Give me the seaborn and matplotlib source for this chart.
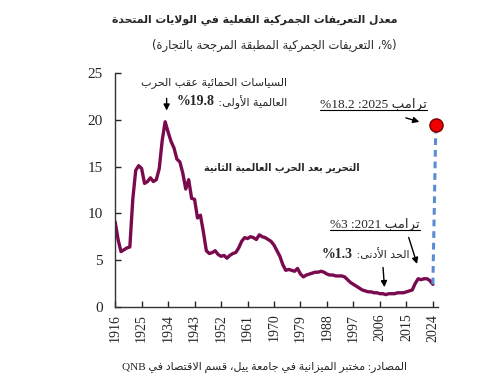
import re
import matplotlib
matplotlib.use("Agg")
import matplotlib.pyplot as plt
from matplotlib.lines import Line2D
import seaborn as sns

# US effective tariff rate, trade weighted (%)
years = list(range(1916, 2025))
tariff_rate = [
    9.1, 7.2, 5.9, 6.1, 6.3, 6.4, 11.5, 14.6, 15.1, 14.8,   # 1916-1925
    13.2, 13.4, 13.8, 13.4, 13.6, 14.8, 17.8, 19.8, 18.7, 17.7,  # 1926-1935
    17.0, 15.8, 15.5, 14.3, 12.6, 13.6, 11.6, 11.5, 9.5, 9.8,  # 1936-1945
    8.0, 6.0, 5.7, 5.8, 6.0, 5.6, 5.4, 5.5, 5.2, 5.5,  # 1946-1955
    5.7, 5.8, 6.3, 7.0, 7.4, 7.3, 7.5, 7.4, 7.2, 7.7,  # 1956-1965
    7.5, 7.4, 7.2, 7.0, 6.6, 6.0, 5.4, 4.5, 3.9, 4.0,  # 1966-1975
    3.9, 3.8, 4.1, 3.5, 3.2, 3.4, 3.5, 3.6, 3.7, 3.7,  # 1976-1985
    3.8, 3.7, 3.5, 3.4, 3.4, 3.3, 3.3, 3.3, 3.2, 2.9,  # 1986-1995
    2.6, 2.4, 2.2, 2.0, 1.8, 1.7, 1.6, 1.6, 1.5, 1.5,  # 1996-2005
    1.4, 1.4, 1.3, 1.4, 1.4, 1.4, 1.5, 1.5, 1.5, 1.6,  # 2006-2015
    1.7, 1.8, 2.5, 3.0, 2.9, 3.0, 3.0, 2.8, 2.4,  # 2016-2024
]
trump_years = [2024, 2025]
trump_rate = [2.4, 19.4]
tick_years = list(range(1916, 2025, 9))

title = "معدل التعريفات الجمركية الفعلية في الولايات المتحدة"
subtitle = "(%، التعريفات الجمركية المطبقة المرجحة بالتجارة)"
source = "المصادر: مختبر الميزانية في جامعة ييل، قسم الاقتصاد في QNB"
wwi_line1 = "السياسات الحمائية عقب الحرب"
wwi_line2 = "العالمية الأولى: "
wwi_value = "19.8%"
wwii_text = "التحرير بعد الحرب العالمية الثانية"
trump25_text = "ترامب 2025: 18.2%"
trump21_text = "ترامب 2021: 3%"
low_text = "الحد الأدنى: "
low_value = "1.3%"

# --- small arabic shaper (matplotlib does no shaping / bidi) ---
FORMS = {}
_start = 0xFE81
for ch in "آأؤإئابةتثجحخدذرزسشصضطظعغفقكلمنهوىي":
    n = 4 if ch in "ئبتثجحخسشصضطظعغفقكلمنهي" else 2
    FORMS[ch] = (_start, n)
    _start += n
FORMS["ء"] = (0xFE80, 1)
LAM_ALEF = {"آ": 0xFEF5, "أ": 0xFEF7, "إ": 0xFEF9, "ا": 0xFEFB}
MIRROR = {"(": ")", ")": "("}


def shape(text):
    chars = []
    i = 0
    while i < len(text):
        if text[i] == "ل" and i + 1 < len(text) and text[i + 1] in LAM_ALEF:
            chars.append(text[i:i + 2])
            i += 2
        else:
            chars.append(text[i])
            i += 1
    out = []
    for k, c in enumerate(chars):
        prev = chars[k - 1] if k > 0 else ""
        nxt = chars[k + 1] if k + 1 < len(chars) else ""
        joins_prev = prev in FORMS and FORMS[prev][1] == 4
        if len(c) == 2:
            out.append(chr(LAM_ALEF[c[1]] + (1 if joins_prev else 0)))
        elif c in FORMS:
            start, n = FORMS[c]
            joins_next = n == 4 and (len(nxt) == 2 or (nxt in FORMS and nxt != "ء"))
            if n == 1:
                idx = 0
            elif joins_prev and joins_next:
                idx = 3
            elif joins_prev:
                idx = 1
            elif joins_next:
                idx = 2
            else:
                idx = 0
            out.append(chr(start + idx))
        else:
            out.append(c)
    return "".join(out)


def rtl(text):
    s = shape(text)
    parts = re.findall(r"[A-Za-z0-9.]+|[^A-Za-z0-9.]+", s)
    vis = []
    for p in reversed(parts):
        if re.match(r"[A-Za-z0-9.]", p):
            vis.append(p)
        else:
            vis.append("".join(MIRROR.get(ch, ch) for ch in reversed(p)))
    return "".join(vis)


sns.set_style("ticks")
plt.rcParams["font.family"] = ["Liberation Serif", "DejaVu Sans"]

fig, ax = plt.subplots(figsize=(4.92, 3.83), dpi=100)
fig.subplots_adjust(left=0.234, right=0.890, bottom=0.199, top=0.809)

sns.lineplot(x=years, y=tariff_rate, ax=ax, color="#7a0a4e", lw=2.4)
sns.lineplot(x=trump_years, y=trump_rate, ax=ax, color="#5b8bd2", lw=2.2,
             linestyle=(0, (2.2, 1.6)))
sns.scatterplot(x=trump_years[-1:], y=trump_rate[-1:], ax=ax, s=90,
                color="#ee0000", edgecolor="#7a0000", linewidth=1, zorder=5,
                clip_on=False)

ax.set_xlim(1916, 2025.7)
ax.set_ylim(0, 25)
ax.set_xticks(tick_years)
ax.set_xticklabels([str(y) for y in tick_years], rotation=90, fontsize=10)
ax.set_yticks([0, 5, 10, 15, 20, 25])
ax.tick_params(axis="y", direction="in", length=4, width=1, labelsize=11, pad=9)
ax.tick_params(axis="x", direction="in", length=4, width=1, pad=5)
sns.despine(ax=ax)
for sp in ["left", "bottom"]:
    ax.spines[sp].set_color("#333333")
    ax.spines[sp].set_linewidth(1)

ar = ["DejaVu Sans"]
arrow = dict(arrowstyle="-|>", color="black", lw=1, mutation_scale=9)

# titles
fig.text(0.807, 0.948, rtl(title), ha="right", va="center", fontsize=7.8,
         fontweight="bold", family=ar)
fig.text(0.807, 0.882, rtl(subtitle), ha="right", va="center", fontsize=8.3,
         family=ar)
fig.text(0.827, 0.040, rtl(source), ha="right", va="center", fontsize=8,
         family=["Liberation Serif", "DejaVu Sans"])

# ww1 protectionism
ax.text(1974.4, 23.95, rtl(wwi_line1), ha="right", va="center", fontsize=8, family=ar)
t = ax.text(1974.4, 21.95, rtl(wwi_line2), ha="right", va="center", fontsize=8, family=ar)
ax.annotate(rtl(wwi_value), xy=(0, 0.5), xycoords=t, ha="right", va="center",
            fontsize=10, fontweight="bold")
ax.annotate("", xy=(1933.5, 20.7), xytext=(1933.5, 22.6), arrowprops=arrow)

# ww2 liberalisation
ax.text(1999.0, 14.85, rtl(wwii_text), ha="right", va="center", fontsize=7,
        fontweight="bold", family=ar)

# trump 2025
t25 = ax.text(2021.9, 21.7, rtl(trump25_text), ha="right", va="center", fontsize=9.6)
ax.annotate("", xy=(2020.3, 19.7), xytext=(2013.9, 20.3), arrowprops=arrow)

# trump 2021
t21 = ax.text(2019.5, 8.85, rtl(trump21_text), ha="right", va="center", fontsize=9.5)
ax.annotate("", xy=(2018.9, 4.3), xytext=(2015.5, 7.7), arrowprops=arrow)

# lowest level
t = ax.text(2015.9, 5.6, rtl(low_text), ha="right", va="center", fontsize=8, family=ar)
ax.annotate(rtl(low_value), xy=(0, 0.5), xycoords=t, ha="right", va="center",
            fontsize=10, fontweight="bold")
ax.annotate("", xy=(2007.6, 1.8), xytext=(2007.0, 4.5), arrowprops=arrow)

# underline the trump labels
fig.canvas.draw()
inv = fig.transFigure.inverted()
for txt in [t25, t21]:
    bb = txt.get_window_extent()
    (x0, y0), (x1, _) = inv.transform([(bb.x0, bb.y0 + 1), (bb.x1, bb.y0 + 1)])
    fig.add_artist(Line2D([x0, x1], [y0, y0], color="black", lw=0.8))

fig.savefig("out.png", dpi=100)
